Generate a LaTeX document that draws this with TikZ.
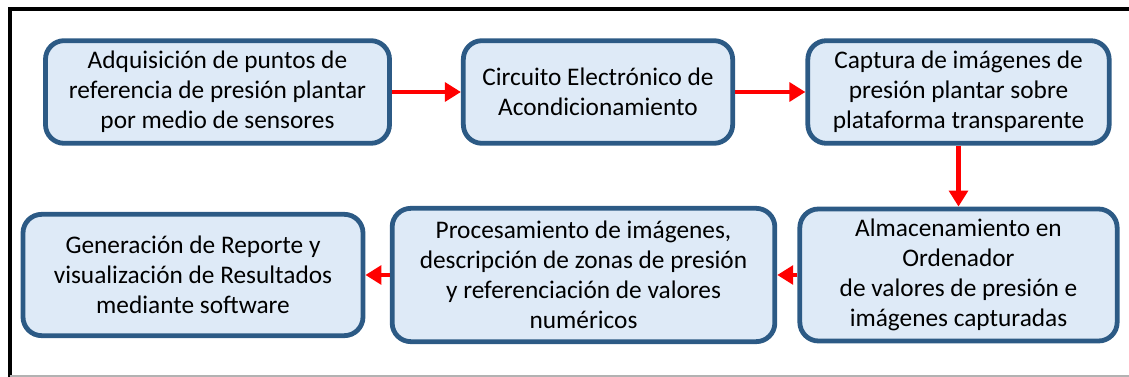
\documentclass[tikz,border=0pt]{standalone}
\usepackage{fontspec}
\setmainfont{Carlito}
\usetikzlibrary{arrows.meta}
\definecolor{boxline}{RGB}{44,90,133}
\definecolor{boxfill}{RGB}{222,234,247}
\definecolor{flowred}{RGB}{255,0,0}

\begin{document}
\begin{tikzpicture}[x=0.75pt,y=0.75pt,
    stage/.style={draw=boxline,fill=boxfill,line width=3.6pt,rounded corners=14pt,
      align=center,inner sep=0pt,font=\fontsize{19}{22.5}\selectfont},
    flow/.style={draw=flowred,line width=3.2pt,-{Triangle[length=12pt,width=14pt]}}]
    \useasboundingbox (0,0) rectangle (1129,-377);
    % frame
    \draw[line width=3pt] (1129,-9.5) -- (9.5,-9.5) -- (9.5,-377);
    \draw[gray!60,line width=1pt] (9.5,-376) -- (1129,-376);
    % stages
    \node[stage,minimum width=258pt,minimum height=77pt] (1) at (217.5,-92) {Adquisición de puntos de\\referencia de presión plantar\\por medio de sensores};
    \node[stage,minimum width=202pt,minimum height=77pt] (2) at (598,-92) {Circuito Electrónico de\\Acondicionamiento};
    \node[stage,minimum width=226pt,minimum height=77pt] (3) at (958.5,-92) {Captura de imágenes de\\presión plantar sobre\\plataforma transparente};
    \node[stage,minimum width=238pt,minimum height=99pt] (4) at (958.5,-275) {Almacenamiento en\\Ordenador\\de valores de presión e\\imágenes capturadas};
    \node[stage,minimum width=287pt,minimum height=100pt] (5) at (583.5,-275) {Procesamiento de imágenes,\\descripción de zonas de presión\\y referenciación de valores\\numéricos};
    \node[stage,minimum width=255pt,minimum height=91pt] (6) at (193,-275) {Generación de Reporte y\\visualización de Resultados\\mediante software};
    \draw[flow] (1) -- (2);
    \draw[flow] (2) -- (3);
    \draw[flow] (3) -- (4);
    \draw[flow] (4) -- (5);
    \draw[flow] (5) -- (6);
\end{tikzpicture}
\end{document}
